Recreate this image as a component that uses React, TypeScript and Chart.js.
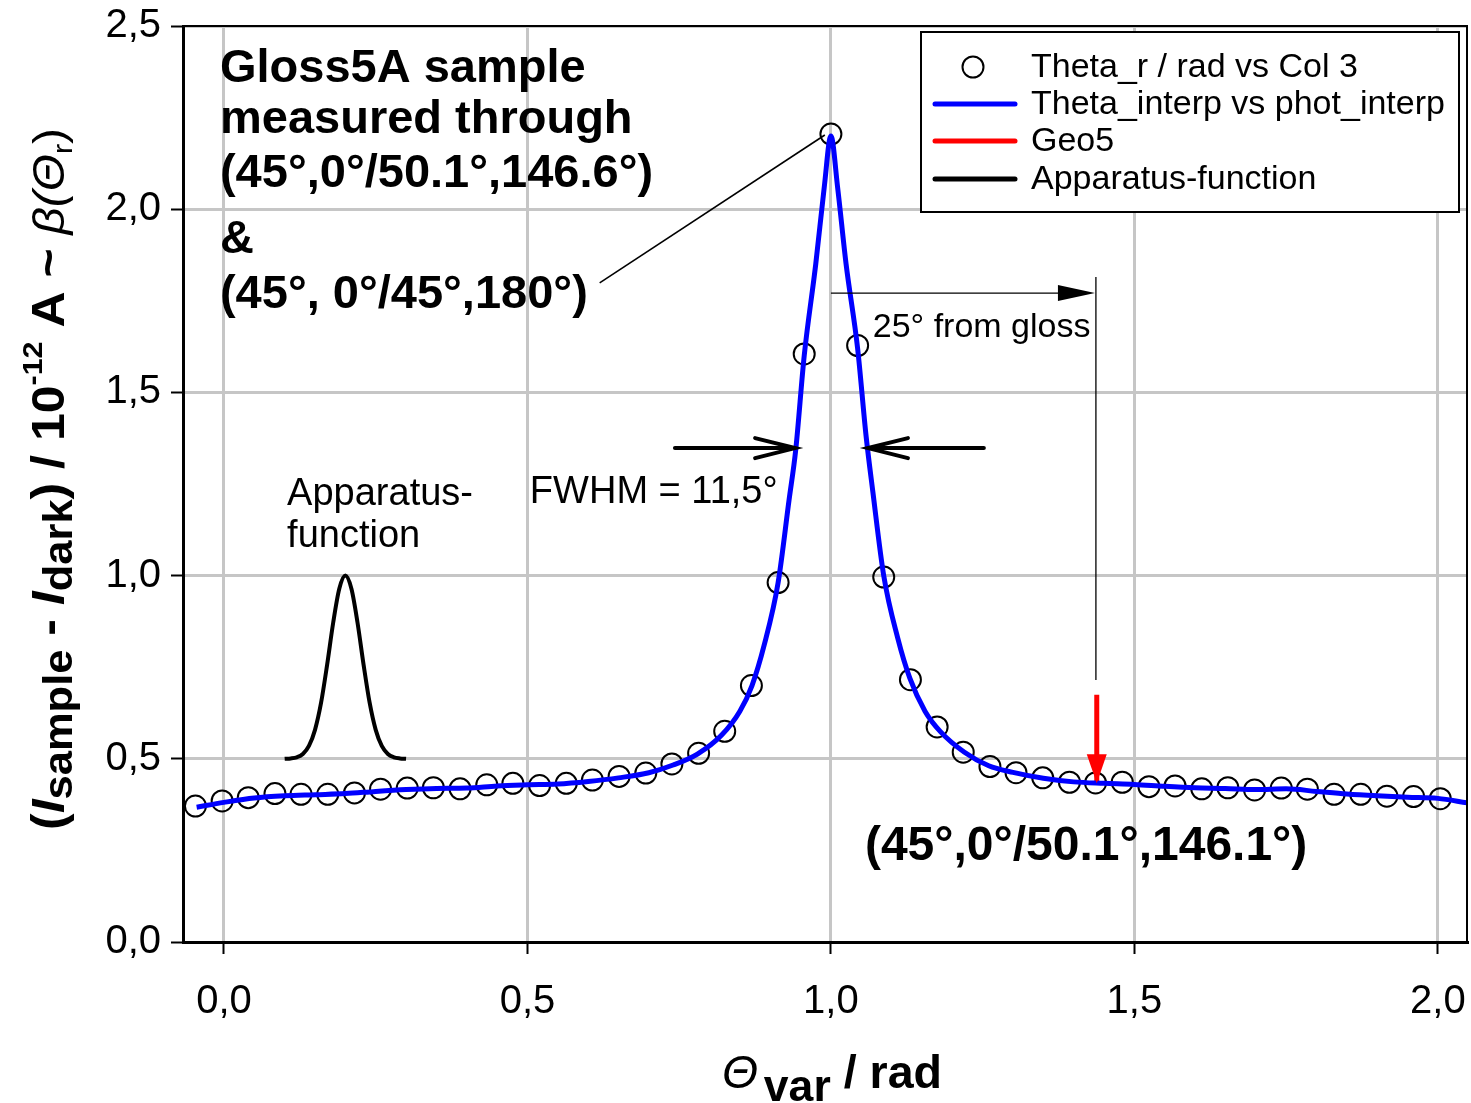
import React, { useEffect, useRef } from 'react';
import { Chart, registerables } from 'chart.js';

Chart.register(...registerables);

const FONT = '"Liberation Sans", Arial, Helvetica, sans-serif';
const NARROW = '"Liberation Sans Narrow", "Arial Narrow", "Liberation Sans", Arial, sans-serif';

// ---------- data ----------
const xTicks = [0, 0.5, 1.0, 1.5, 2.0];
const yTicks = [0, 0.5, 1.0, 1.5, 2.0, 2.5];
const X_MIN = -0.0675;
const X_MAX = 2.048;
const Y_MIN = 0;
const Y_MAX = 2.5;

// measured points (Theta_r / rad vs Col 3)
const thetaR = [
  -0.047, -0.003, 0.040, 0.084, 0.127, 0.171, 0.215, 0.258, 0.302, 0.345, 0.389, 0.433,
  0.476, 0.520, 0.564, 0.607, 0.651, 0.695, 0.738, 0.782, 0.825, 0.869, 0.913, 0.956,
  1.000, 1.044, 1.087, 1.131, 1.175, 1.218, 1.262, 1.305, 1.349, 1.393, 1.436, 1.480,
  1.524, 1.567, 1.611, 1.654, 1.698, 1.742, 1.785, 1.829, 1.873, 1.916, 1.960, 2.004,
];
const col3 = [
  0.371, 0.385, 0.394, 0.405, 0.403, 0.403, 0.407, 0.417, 0.420, 0.421, 0.418, 0.429,
  0.433, 0.427, 0.433, 0.442, 0.452, 0.461, 0.486, 0.515, 0.575, 0.700, 0.981, 1.605,
  2.205, 1.628, 0.996, 0.716, 0.587, 0.518, 0.479, 0.462, 0.448, 0.436, 0.434, 0.436,
  0.424, 0.426, 0.418, 0.421, 0.415, 0.420, 0.417, 0.403, 0.403, 0.398, 0.397, 0.391,
];

// interpolated curve (Theta_interp vs phot_interp)
const thetaInterp = [
  -0.045, 0.0, 0.05, 0.1, 0.15, 0.2, 0.25, 0.3, 0.35, 0.4,
  0.45, 0.5, 0.55, 0.6, 0.65, 0.7, 0.74, 0.78, 0.82, 0.85,
  0.87, 0.89, 0.913, 0.931, 0.942, 0.956, 0.975, 0.989, 1.0, 1.011,
  1.025, 1.044, 1.058, 1.069, 1.087, 1.11, 1.13, 1.155, 1.18, 1.22,
  1.26, 1.3, 1.35, 1.4, 1.45, 1.5, 1.55, 1.6, 1.65, 1.7,
  1.75, 1.8, 1.85, 1.9, 1.95, 2.0, 2.048,
];
const photInterp = [
  0.368, 0.381, 0.393, 0.399, 0.402, 0.405, 0.411, 0.416, 0.419, 0.420,
  0.426, 0.429, 0.431, 0.438, 0.448, 0.462, 0.483, 0.513, 0.565, 0.630,
  0.700, 0.810, 0.981, 1.206, 1.343, 1.600, 1.850, 2.060, 2.200, 2.060,
  1.850, 1.620, 1.380, 1.230, 1.000, 0.830, 0.720, 0.630, 0.575, 0.518,
  0.481, 0.463, 0.447, 0.437, 0.433, 0.430, 0.425, 0.421, 0.419, 0.416,
  0.418, 0.411, 0.404, 0.399, 0.395, 0.392, 0.380,
];

// Geo5 marker (red arrow)
const geo5X = [1.438, 1.438];
const geo5Y = [0.675, 0.439];

// Apparatus function
const appX = [0.10, 0.11, 0.12, 0.13, 0.14, 0.15, 0.16, 0.17, 0.18, 0.19, 0.20, 0.21, 0.22, 0.23, 0.24, 0.25, 0.26, 0.27, 0.28, 0.29, 0.30];
const appY = [0.500, 0.501, 0.504, 0.513, 0.535, 0.579, 0.653, 0.757, 0.872, 0.964, 1.000, 0.964, 0.872, 0.757, 0.653, 0.579, 0.535, 0.513, 0.504, 0.501, 0.500];

const seriesLabels = ['Theta_r / rad vs Col 3', 'Theta_interp vs phot_interp', 'Geo5', 'Apparatus-function'];

const zip = (xs: number[], ys: number[]) => xs.map((x, i) => ({ x, y: ys[i] }));
const fmt = (v: number) => v.toFixed(1).replace('.', ',');

type Seg = { t: string; style: string; size: number; dy: number };

function drawSegs(ctx: CanvasRenderingContext2D, segs: Seg[], family: string, targetLen: number) {
  let total = 0;
  const widths: number[] = [];
  segs.forEach((s) => {
    ctx.font = `${s.style} ${s.size}px ${family}`;
    const w = ctx.measureText(s.t).width;
    widths.push(w);
    total += w;
  });
  const sx = targetLen / total;
  ctx.scale(sx, 1);
  let cx = -total / 2;
  segs.forEach((s, i) => {
    ctx.font = `${s.style} ${s.size}px ${family}`;
    ctx.fillText(s.t, cx, s.dy);
    cx += widths[i];
  });
}

const zeroPad = (s: any) => {
  s.paddingTop = 0;
  s.paddingBottom = 0;
  s.paddingLeft = 0;
  s.paddingRight = 0;
};

const decor = {
  id: 'decor',
  beforeDraw(chart: any) {
    const { ctx, width, height } = chart;
    ctx.save();
    ctx.fillStyle = '#ffffff';
    ctx.fillRect(0, 0, width, height);
    ctx.restore();
  },
  afterDatasetsDraw(chart: any) {
    const { ctx, chartArea: ca } = chart;
    const xs = chart.scales.x;
    const ys = chart.scales.y;
    const X = (v: number) => xs.getPixelForValue(v);
    const Y = (v: number) => ys.getPixelForValue(v);
    ctx.save();

    // frame top & right
    ctx.strokeStyle = '#000';
    ctx.lineWidth = 2;
    ctx.beginPath();
    ctx.moveTo(ca.left, ca.top);
    ctx.lineTo(ca.right, ca.top);
    ctx.lineTo(ca.right, ca.bottom);
    ctx.stroke();

    // red arrow head for Geo5
    const gm = chart.getDatasetMeta(2);
    if (gm && gm.data.length) {
      const tip = gm.data[gm.data.length - 1];
      ctx.fillStyle = '#ff0000';
      ctx.beginPath();
      ctx.moveTo(tip.x, tip.y + 2);
      ctx.lineTo(tip.x - 10, tip.y - 27);
      ctx.lineTo(tip.x + 10, tip.y - 27);
      ctx.closePath();
      ctx.fill();
    }

    ctx.fillStyle = '#000';
    ctx.strokeStyle = '#000';
    ctx.textBaseline = 'alphabetic';
    ctx.textAlign = 'left';

    // bold title block
    ctx.font = `bold 47px ${FONT}`;
    const blockX = X(-0.0066);
    ctx.fillText('Gloss5A sample', blockX, Y(2.3485));
    ctx.fillText('measured through', blockX, Y(2.207));
    ctx.fillText('(45°,0°/50.1°,146.6°)', blockX, Y(2.061));
    ctx.fillText('&', blockX, Y(1.880));
    ctx.fillText('(45°, 0°/45°,180°)', blockX, Y(1.7295));

    // leader line to peak
    ctx.lineWidth = 1.6;
    ctx.beginPath();
    ctx.moveTo(X(0.619), Y(1.799));
    ctx.lineTo(X(0.990), Y(2.2025));
    ctx.stroke();

    // 25° from gloss arrow
    ctx.lineWidth = 1.3;
    ctx.beginPath();
    ctx.moveTo(X(1.0), Y(1.771));
    ctx.lineTo(X(1.40), Y(1.771));
    ctx.stroke();
    const tx = X(1.435), ty = Y(1.771);
    ctx.beginPath();
    ctx.moveTo(tx, ty);
    ctx.lineTo(tx - 37, ty - 8);
    ctx.lineTo(tx - 37, ty + 8);
    ctx.closePath();
    ctx.fill();
    ctx.beginPath();
    ctx.moveTo(X(1.4366), Y(1.815));
    ctx.lineTo(X(1.4366), Y(0.715));
    ctx.stroke();
    ctx.font = `34px ${FONT}`;
    ctx.fillText('25° from gloss', X(1.069), Y(1.652));

    // FWHM arrows
    ctx.lineWidth = 4;
    ctx.lineCap = 'round';
    const fy = Y(1.348);
    const lt = X(0.941), ltail = X(0.743);
    const rt = X(1.061), rtail = X(1.252);
    ctx.beginPath();
    ctx.moveTo(ltail, fy); ctx.lineTo(lt, fy);
    ctx.moveTo(lt - 40, fy - 10); ctx.lineTo(lt, fy); ctx.lineTo(lt - 40, fy + 10);
    ctx.moveTo(rtail, fy); ctx.lineTo(rt, fy);
    ctx.moveTo(rt + 40, fy - 10); ctx.lineTo(rt, fy); ctx.lineTo(rt + 40, fy + 10);
    ctx.stroke();
    ctx.lineCap = 'butt';

    ctx.font = `38px ${FONT}`;
    ctx.fillText('FWHM = 11,5°', X(0.504), Y(1.197));
    ctx.fillText('Apparatus-', X(0.104), Y(1.193));
    ctx.fillText('function', X(0.104), Y(1.078));

    ctx.font = `bold 48px ${FONT}`;
    ctx.fillText('(45°,0°/50.1°,146.1°)', X(1.056), Y(0.224));

    // legend
    const bw = 538, bh = 180;
    const bx = ca.right - 8 - bw, by = ca.top + 6;
    ctx.fillStyle = '#fff';
    ctx.fillRect(bx, by, bw, bh);
    ctx.strokeStyle = '#000';
    ctx.lineWidth = 2;
    ctx.strokeRect(bx, by, bw, bh);
    const rows = [35, 72, 109, 147];
    ctx.font = `34px ${FONT}`;
    ctx.textBaseline = 'middle';
    chart.data.datasets.forEach((ds: any, i: number) => {
      const ry = by + rows[i];
      if (ds.showLine === false) {
        ctx.beginPath();
        ctx.arc(bx + 52, ry, 10.5, 0, Math.PI * 2);
        ctx.lineWidth = 2;
        ctx.strokeStyle = '#000';
        ctx.stroke();
      } else {
        ctx.beginPath();
        ctx.moveTo(bx + 14, ry);
        ctx.lineTo(bx + 94, ry);
        ctx.lineWidth = 5;
        ctx.lineCap = 'round';
        ctx.strokeStyle = ds.borderColor;
        ctx.stroke();
        ctx.lineCap = 'butt';
      }
      ctx.fillStyle = '#000';
      ctx.fillText(ds.label, bx + 110, ry + 1);
    });
    ctx.textBaseline = 'alphabetic';

    // y axis title (rotated)
    ctx.save();
    ctx.fillStyle = '#000';
    ctx.translate(64, 479);
    ctx.rotate(-Math.PI / 2);
    const ySegs: Seg[] = [
      { t: '(', style: 'bold', size: 46, dy: 0 },
      { t: 'I', style: 'italic bold', size: 46, dy: 0 },
      { t: 'sample', style: 'bold', size: 40, dy: 8 },
      { t: ' - ', style: 'bold', size: 46, dy: 0 },
      { t: 'I', style: 'italic bold', size: 46, dy: 0 },
      { t: 'dark', style: 'bold', size: 40, dy: 8 },
      { t: ') / 10', style: 'bold', size: 46, dy: 0 },
      { t: '-12', style: 'bold', size: 28, dy: -22 },
      { t: ' A ~ ', style: 'bold', size: 46, dy: 0 },
      { t: 'β(', style: 'italic', size: 44, dy: 0 },
      { t: 'Θ', style: 'italic', size: 44, dy: 0 },
      { t: 'r', style: 'normal', size: 28, dy: 8 },
      { t: ')', style: 'normal', size: 44, dy: 0 },
    ];
    drawSegs(ctx, ySegs, NARROW, 702);
    ctx.restore();

    // x axis title
    ctx.save();
    ctx.fillStyle = '#000';
    ctx.translate(832, 1088);
    const xSegs: Seg[] = [
      { t: 'Θ', style: 'italic', size: 46, dy: 0 },
      { t: ' ', style: 'bold', size: 20, dy: 0 },
      { t: 'var', style: 'bold', size: 44, dy: 13 },
      { t: ' / rad', style: 'bold', size: 46, dy: 0 },
    ];
    drawSegs(ctx, xSegs, FONT, 220);
    ctx.restore();

    ctx.restore();
  },
};

export default function App() {
  const ref = useRef<HTMLCanvasElement | null>(null);
  useEffect(() => {
    if (!ref.current) return;
    const chart = new Chart(ref.current, {
      type: 'scatter',
      data: {
        datasets: [
          {
            label: seriesLabels[0],
            data: zip(thetaR, col3),
            showLine: false,
            pointRadius: 10.5,
            pointBorderWidth: 2,
            pointBorderColor: '#000',
            pointBackgroundColor: 'rgba(0,0,0,0)',
            borderColor: '#000',
            backgroundColor: 'rgba(0,0,0,0)',
            order: 2,
          },
          {
            label: seriesLabels[1],
            data: zip(thetaInterp, photInterp),
            showLine: true,
            borderColor: '#0000ff',
            borderWidth: 5,
            pointRadius: 0,
            cubicInterpolationMode: 'monotone',
            order: 0,
          },
          {
            label: seriesLabels[2],
            data: zip(geo5X, geo5Y),
            showLine: true,
            borderColor: '#ff0000',
            borderWidth: 5,
            pointRadius: 0,
            order: 0,
          },
          {
            label: seriesLabels[3],
            data: zip(appX, appY),
            showLine: true,
            borderColor: '#000000',
            borderWidth: 4,
            pointRadius: 0,
            cubicInterpolationMode: 'monotone',
            order: 1,
          },
        ],
      } as any,
      options: {
        animation: false,
        responsive: false,
        maintainAspectRatio: false,
        layout: { autoPadding: false, padding: { top: 26, right: 4, left: 0, bottom: 0 } },
        plugins: { legend: { display: false }, tooltip: { enabled: false } },
        scales: {
          x: {
            type: 'linear',
            min: X_MIN,
            max: X_MAX,
            afterBuildTicks: (s: any) => { s.ticks = xTicks.map((v) => ({ value: v })); },
            afterFit: (s: any) => { s.height = 161; zeroPad(s); },
            grid: { color: '#c6c6c6', lineWidth: 3, tickColor: '#000', tickWidth: 2, tickLength: 12 },
            border: { color: '#000', width: 3 },
            ticks: { color: '#000', font: { family: FONT, size: 40 }, padding: 24, callback: (v: any) => fmt(Number(v)), maxRotation: 0 },
          },
          y: {
            type: 'linear',
            min: Y_MIN,
            max: Y_MAX,
            afterBuildTicks: (s: any) => { s.ticks = yTicks.map((v) => ({ value: v })); },
            afterFit: (s: any) => { s.width = 183; zeroPad(s); },
            grid: { color: '#c6c6c6', lineWidth: 3, tickColor: '#000', tickWidth: 2, tickLength: 12 },
            border: { color: '#000', width: 3 },
            ticks: { color: '#000', font: { family: FONT, size: 40 }, padding: 10, callback: (v: any) => fmt(Number(v)) },
          },
        },
      } as any,
      plugins: [decor],
    });
    return () => chart.destroy();
  }, []);
  return (
    <div style={{ position: 'absolute', left: 0, top: 0, width: 1471, height: 1103, background: '#fff' }}>
      <canvas ref={ref} width={1471} height={1103} style={{ display: 'block', width: 1471, height: 1103 }} />
    </div>
  );
}
